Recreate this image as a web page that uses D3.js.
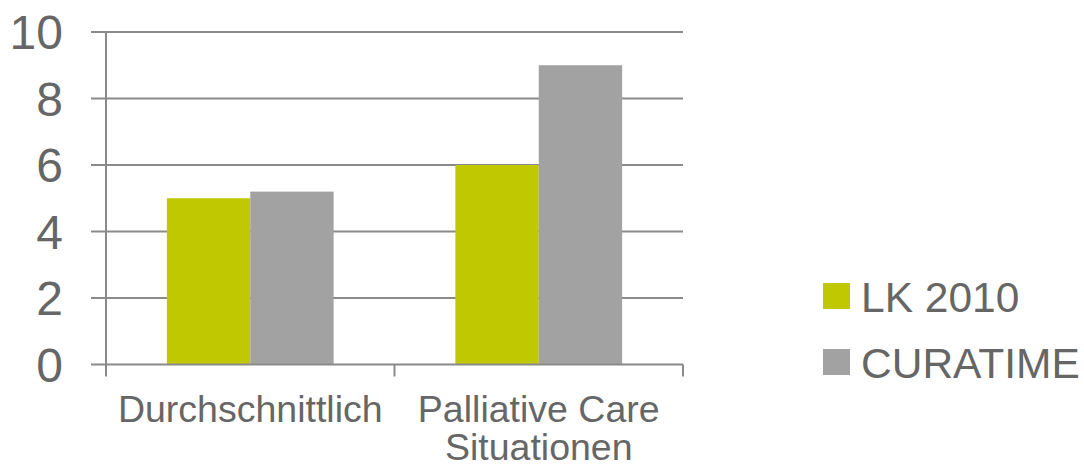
<!DOCTYPE html>
<html><head><meta charset="utf-8">
<script src="https://cdn.jsdelivr.net/npm/d3@7"></script>
<style>
html,body{margin:0;padding:0;background:#fff;}
svg{display:block;}
text{font-family:"Liberation Sans",Arial,sans-serif;fill:#666;}
</style></head>
<body><svg id="c" width="1084" height="469"></svg>
<script>
const categories = [["Durchschnittlich"], ["Palliative Care", "Situationen"]];
const seriesNames = ["LK 2010", "CURATIME"];
const lk2010 = [5, 6];
const curatime = [5.2, 9];
const yTicks = [0, 2, 4, 6, 8, 10];
const colors = ["#bfc800", "#a2a2a2"];

(function () {
const svg = d3.select("#c");
const pLeft = 106, pRight = 683, pTop = 32, pBottom = 364.5;
const x = d3.scaleBand().domain(d3.range(categories.length)).range([pLeft, pRight]).paddingInner(0).paddingOuter(0);
const xs = d3.scaleBand().domain(d3.range(seriesNames.length)).range([0, x.bandwidth()]).paddingInner(0).paddingOuter(0.73);
const y = d3.scaleLinear().domain([0, 10]).range([pBottom, pTop]);
const series = [lk2010, curatime];

// gridlines
svg.append("g").selectAll("line").data(yTicks.filter(d => d > 0)).join("line")
  .attr("x1", pLeft - 15).attr("x2", pRight).attr("y1", d => y(d)).attr("y2", d => y(d))
  .attr("stroke", "#8a8a8a").attr("stroke-width", 2);

// bars
series.forEach((vals, si) => {
  svg.append("g").selectAll("rect").data(vals).join("rect")
    .attr("x", (d, i) => x(i) + xs(si))
    .attr("width", xs.bandwidth())
    .attr("y", d => y(d))
    .attr("height", d => y(0) - y(d))
    .attr("fill", colors[si]);
});

// y axis line
svg.append("line").attr("x1", pLeft).attr("x2", pLeft).attr("y1", pTop).attr("y2", pBottom)
  .attr("stroke", "#8a8a8a").attr("stroke-width", 2);
// x axis line
svg.append("line").attr("x1", pLeft - 15).attr("x2", pRight).attr("y1", y(0)).attr("y2", y(0))
  .attr("stroke", "#8a8a8a").attr("stroke-width", 2);
// x ticks
const xt = d3.range(categories.length + 1).map(i => i < categories.length ? x(i) : pRight);
svg.append("g").selectAll("line").data(xt).join("line")
  .attr("x1", d => d).attr("x2", d => d).attr("y1", y(0)).attr("y2", y(0) + 12)
  .attr("stroke", "#8a8a8a").attr("stroke-width", 2);

// y tick labels
svg.append("g").selectAll("text").data(yTicks).join("text")
  .attr("x", 63).attr("y", d => y(d)).attr("dy", "0.36em")
  .attr("text-anchor", "end").attr("font-size", 48).text(d => d);

// category labels
categories.forEach((lines, i) => {
  const t = svg.append("text").attr("text-anchor", "middle").attr("font-size", 37.5);
  lines.forEach((l, j) => {
    t.append("tspan").attr("x", x(i) + x.bandwidth() / 2).attr("y", 422 + j * 38).text(l);
  });
});

// legend
seriesNames.forEach((n, i) => {
  const base = 312 + i * 66;
  svg.append("rect").attr("x", 823).attr("y", base - 29).attr("width", 27).attr("height", 26).attr("fill", colors[i]);
  svg.append("text").attr("x", 861).attr("y", base).attr("font-size", 42.5).text(n);
});
})();
</script></body></html>
